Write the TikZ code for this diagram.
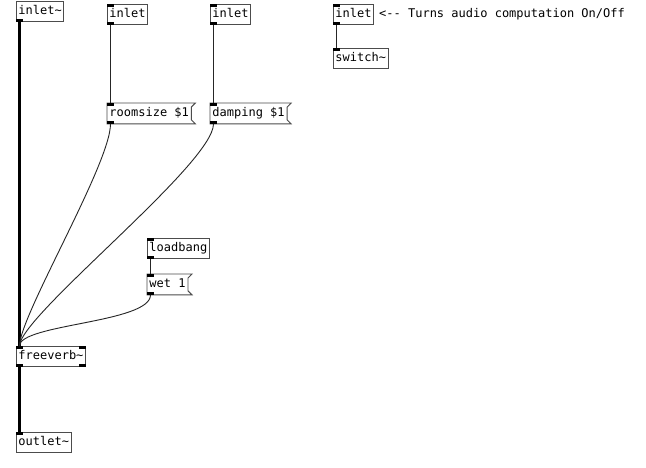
\documentclass[tikz,border=0pt]{standalone}
\usepackage{fontspec}
\newfontfamily\pdfont{DejaVu Sans Mono}
\begin{document}
\begin{tikzpicture}[x=1pt,y=-1pt,
  box/.style={draw=black!70,line width=0.9pt,anchor=north west,
    font=\pdfont\fontsize{12pt}{14pt}\selectfont,
    inner xsep=2pt,inner ysep=4pt,text height=9pt,text depth=3pt},
  obj/.style={box},
  msg/.style={box,draw=none},
  flag/.style={draw=black!70,line width=0.9pt},
  iolet/.style={fill=black},
  sig/.style={line width=2.4pt,black},
  ctl/.style={line width=0.9pt,black!85},
  comment/.style={anchor=base west,inner sep=0pt,
    font=\pdfont\fontsize{12pt}{14pt}\selectfont}]
\useasboundingbox[fill=white] (0,0) rectangle (646,467);

% objects and messages
\node[obj] (sigin) at (16,1) {inlet\textasciitilde};
\node[obj] (inA) at (107,4) {inlet};
\node[obj] (inB) at (210,4) {inlet};
\node[obj] (inC) at (333,4) {inlet};
\node[obj] (sw) at (333,48) {switch\textasciitilde};
\node[msg] (rs) at (107,103) {roomsize \$1};
\node[msg] (dp) at (210,103) {damping \$1};
\node[obj] (lb) at (147,238) {loadbang};
\node[msg] (wet) at (147,274) {wet 1};
\node[obj] (fv) at (16,346) {freeverb\textasciitilde};
\node[obj] (out) at (16,432) {outlet\textasciitilde};
\node[comment] (note) at (379,17) {<-{}- Turns audio computation On/Off};

% message box outlines with the flag on the right
\foreach \m in {rs,dp,wet}
  \draw[flag] (\m.north west) -- ([xshift=4pt]\m.north east)
    -- ([yshift=-4pt]\m.north east) -- ([yshift=4pt]\m.south east)
    -- ([xshift=4pt]\m.south east) -- (\m.south west) -- cycle;

% inlets
\foreach \n in {inA,inB,inC,sw,rs,dp,lb,wet,fv,out}
  \fill[iolet] (\n.north west) rectangle ++(7,3);
\fill[iolet] (fv.north east) rectangle ++(-7,3);
% outlets
\foreach \n in {sigin,inA,inB,inC,rs,dp,lb,wet,fv}
  \fill[iolet] (\n.south west) rectangle ++(7,-3);
\fill[iolet] (fv.south east) rectangle ++(-7,-3);

% connections
\draw[sig] ([xshift=3.5pt]sigin.south west) -- ([xshift=3.5pt]fv.north west);
\draw[sig] ([xshift=3.5pt]fv.south west) -- ([xshift=3.5pt]out.north west);
\draw[ctl] ([xshift=3.5pt]inA.south west) -- ([xshift=3.5pt]rs.north west);
\draw[ctl] ([xshift=3.5pt]inB.south west) -- ([xshift=3.5pt]dp.north west);
\draw[ctl] ([xshift=3.5pt]inC.south west) -- ([xshift=3.5pt]sw.north west);
\draw[ctl] ([xshift=3.5pt]lb.south west) -- ([xshift=3.5pt]wet.north west);
\draw[ctl] ([xshift=3.5pt]rs.south west) .. controls +(0,40) and +(0,-30) .. ([xshift=3.5pt]fv.north west);
\draw[ctl] ([xshift=3.5pt]dp.south west) .. controls +(0,40) and +(0,-30) .. ([xshift=3.5pt]fv.north west);
\draw[ctl] ([xshift=3.5pt]wet.south west) .. controls +(0,28) and +(0,-22) .. ([xshift=3.5pt]fv.north west);
\end{tikzpicture}
\end{document}
